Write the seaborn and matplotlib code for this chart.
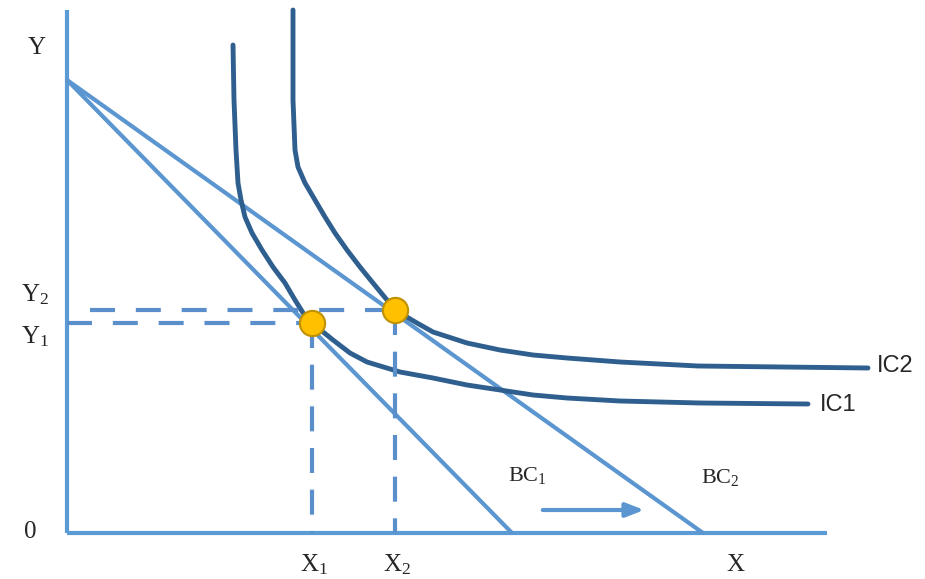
import numpy as np
import pandas as pd
import matplotlib.pyplot as plt
import seaborn as sns

# Indifference curves (origin at the axis corner)
ic1_x = [166, 167, 169, 171, 174, 178, 185, 195, 206, 218, 228, 238, 245, 266, 283, 300,
         333, 366, 400, 433, 466, 500, 553, 633, 741]
ic1_y = [488, 433, 383, 350, 333, 316, 300, 283, 266, 250, 233, 217, 210, 193, 180, 171,
         161, 155, 148, 143, 138, 135, 132, 130, 129]
ic2_x = [226, 226, 226, 228, 231, 238, 248, 258, 268, 280, 293, 306, 320, 328, 350, 366,
         400, 433, 466, 500, 553, 631, 801]
ic2_y = [523, 473, 433, 383, 366, 350, 333, 316, 300, 283, 266, 250, 233, 223, 210, 201,
         190, 183, 178, 175, 171, 167, 165]

# Budget constraints: common y-intercept, two x-intercepts
bc_y_intercept = 453
bc_x_intercepts = [445, 636]
bc_labels = ["BC$_1$", "BC$_2$"]

# Optimal bundles (tangency points)
opt_x = [245, 328]
opt_y = [210, 223]
x_labels = ["X$_1$", "X$_2$"]
y_labels = ["Y$_1$", "Y$_2$"]

axis_len_x = 760
axis_len_y = 523

sns.set_theme(style="white")
plt.rcParams["font.family"] = ["Liberation Serif", "DejaVu Serif"]
plt.rcParams["mathtext.fontset"] = "custom"
plt.rcParams["mathtext.rm"] = "Liberation Serif"
plt.rcParams["mathtext.it"] = "Liberation Serif:italic"

axis_col = "#5b9bd5"
bc_col = "#5b96d0"
ic_col = "#2f5f8f"
dash_col = "#5b8fcb"

fig = plt.figure(figsize=(9.25, 5.79), dpi=100)
ax = fig.add_axes([0, 0, 1, 1])

# axes
ax.plot([0, 0], [0, axis_len_y], color=axis_col, lw=3, solid_capstyle="butt")
ax.plot([0, axis_len_x], [0, 0], color=axis_col, lw=3, solid_capstyle="butt")

# budget lines
for xi in bc_x_intercepts:
    bc = pd.DataFrame({"x": [0, xi], "y": [bc_y_intercept, 0]})
    sns.lineplot(data=bc, x="x", y="y", ax=ax, color=bc_col, lw=3, sort=False, estimator=None)

# indifference curves
ic1 = pd.DataFrame({"x": ic1_x, "y": ic1_y})
ic2 = pd.DataFrame({"x": ic2_x, "y": ic2_y})
for ic in (ic1, ic2):
    sns.lineplot(data=ic, x="x", y="y", ax=ax, color=ic_col, lw=3.5, sort=False,
                 estimator=None)
for line in ax.lines[-2:]:
    line.set_solid_joinstyle("round")

# dashed guides
y_starts = [0, 23]
for xo, yo, ys in zip(opt_x, opt_y, y_starts):
    ax.plot([ys, xo], [yo, yo], color=dash_col, lw=3, dashes=(6, 5))
    ax.plot([xo, xo], [yo, 0], color=dash_col, lw=3, dashes=(6, 4))

ax.scatter(opt_x, opt_y, s=330, color="#ffc000", edgecolor="#bf9000", linewidth=1.5, zorder=5)

# shift arrow
ax.annotate("", xy=(580, 23), xytext=(473, 23),
            arrowprops=dict(arrowstyle="-|>,head_length=0.9,head_width=0.35", color=bc_col, lw=3))

# labels
fs = 18
ax.text(-30, 485, "Y", fontsize=fs, ha="center", va="center")
ax.text(-32, 238, y_labels[1], fontsize=fs, ha="center", va="center")
ax.text(-32, 196, y_labels[0], fontsize=fs, ha="center", va="center")
ax.text(-37, 1, "0", fontsize=fs, ha="center", va="center")
for xo, lab in zip(opt_x, x_labels):
    ax.text(xo + 2, -32, lab, fontsize=fs, ha="center", va="center")
ax.text(668, -32, "X", fontsize=fs, ha="center", va="center")
ax.text(460, 58, bc_labels[0], fontsize=16, ha="center", va="center")
ax.text(653, 55, bc_labels[1], fontsize=16, ha="center", va="center")
ax.text(810, 167, "IC2", fontsize=17, ha="left", va="center", family=["Liberation Sans", "DejaVu Sans"])
ax.text(753, 128, "IC1", fontsize=17, ha="left", va="center", family=["Liberation Sans", "DejaVu Sans"])

ax.set_xlim(-67, 858)
ax.set_ylim(-46, 533)
ax.axis("off")

fig.savefig("out.png", dpi=100)
